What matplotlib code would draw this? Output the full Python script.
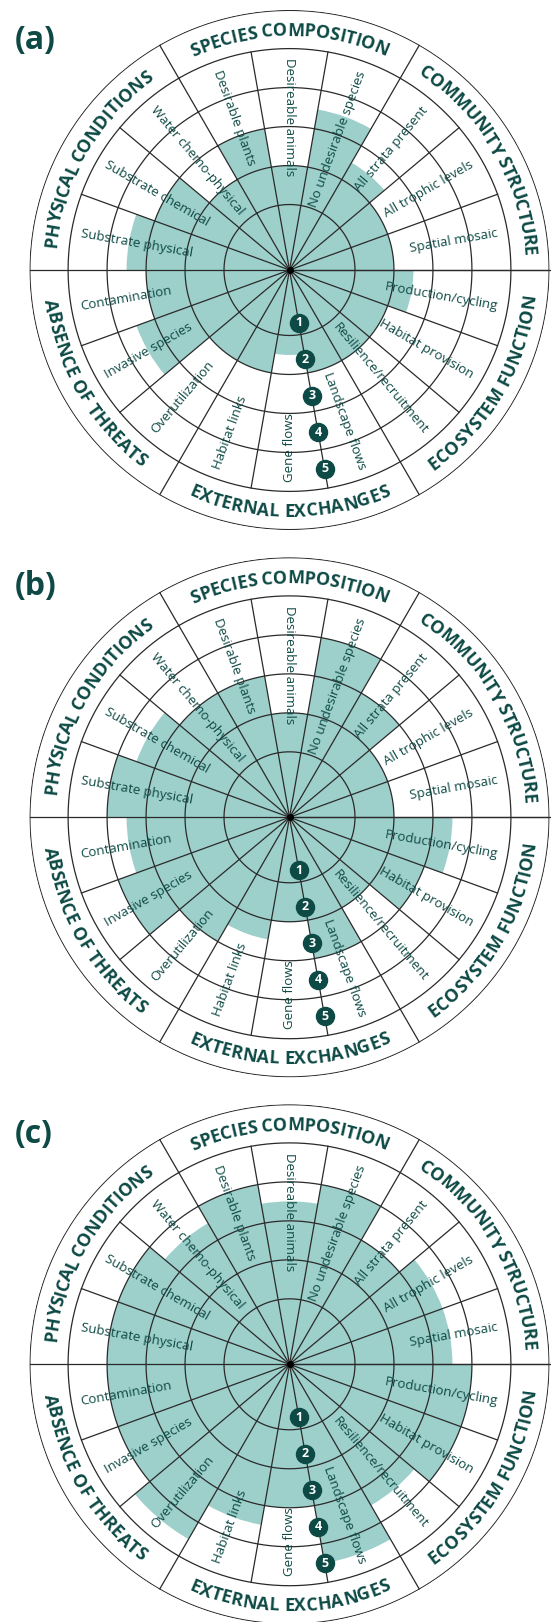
import numpy as np
import matplotlib
matplotlib.use("Agg")
import matplotlib.pyplot as plt
from matplotlib.font_manager import FontProperties, findfont, get_font

plt.rcParams['font.family'] = ['Open Sans', 'DejaVu Sans']

# Recovery wheel data (ratings 0-5), attributes clockwise from the top-left
categories = ["SPECIES COMPOSITION", "COMMUNITY STRUCTURE", "ECOSYSTEM FUNCTION",
              "EXTERNAL EXCHANGES", "ABSENCE OF THREATS", "PHYSICAL CONDITIONS"]
attributes = ["Desirable plants", "Desireable animals", "No undesirable species",
              "All strata present", "All trophic levels", "Spatial mosaic",
              "Production/cycling", "Habitat provision", "Resilience/recruitment",
              "Landscape flows", "Gene flows", "Habitat links",
              "Overutilization", "Invasive species", "Contamination",
              "Substrate physical", "Substrate chemical", "Water chemo-physical"]
values_a = [3, 2, 3.5, 2.5, 2, 2, 2.5, 2, 2, 2, 1.5, 2, 2, 3.5, 3, 3.5, 3, 2]
values_b = [3, 2, 4, 3, 2, 2, 3.5, 3, 2, 3, 2, 2.5, 3, 4, 3.5, 4, 3.5, 3]
values_c = [4, 3.5, 4, 3, 3.5, 3.5, 4, 4, 3.5, 4.5, 3, 3.5, 4.5, 4, 4, 4, 4, 3.5]
panel_labels = ["(a)", "(b)", "(c)"]
ratings = [1, 2, 3, 4, 5]

FILL = "#9dcfcb"
DARK = "#0e4a45"
LINE = "#2a2a2a"

W, H = 551, 1622
R = 260.0
CX = 289.5
CYS = [270, 817.3, 1364.3]
RMIN, RMAX = -0.68, 5.99
PXU = R / (RMAX - RMIN)

fig = plt.figure(figsize=(W / 100, H / 100), dpi=100)


def screen_to_theta(phi):
    # theta offset 120 deg, clockwise
    return np.deg2rad(120 - phi)


def curved_text(ax, text, phi_c, r_mid, upper, size):
    fp = FontProperties(family=['Open Sans', 'DejaVu Sans'], weight='bold', size=size)
    font = get_font(findfont(fp))
    font.set_size(size, 100)
    advs = [font.load_char(ord(ch)).linearHoriAdvance / 65536 for ch in text]
    starts = np.concatenate([[0], np.cumsum(advs)[:-1]])
    total = sum(advs)
    cap = 0.714 * size * 100 / 72
    r_base = r_mid - cap / 2 if upper else r_mid + cap / 2
    for ch, s0, a in zip(text, starts, advs):
        if ch == " ":
            continue
        off = s0 + a / 2 - total / 2
        dang = np.rad2deg(off / r_mid)
        if upper:
            phi = phi_c - dang
            rot = phi - 90
        else:
            phi = phi_c + dang
            rot = phi + 90
        ax.text(screen_to_theta(phi), r_base / PXU + RMIN, ch, fontproperties=fp,
                color=DARK, rotation=rot, rotation_mode='anchor',
                ha='center', va='baseline', clip_on=False)


all_values = [values_a, values_b, values_c]
n = len(attributes)
step = 360 / n
theta_c = np.deg2rad((np.arange(n) + 0.5) * step)
circ = np.linspace(0, 2 * np.pi, 721)

for p, (vals, cy) in enumerate(zip(all_values, CYS)):
    ax = fig.add_axes([(CX - R) / W, 1 - (cy + R) / H, 2 * R / W, 2 * R / H],
                      projection='polar')
    ax.set_theta_offset(np.deg2rad(120))
    ax.set_theta_direction(-1)
    ax.set_ylim(RMIN, RMAX)
    ax.set_xticks([])
    ax.set_yticks([])
    ax.grid(False)
    ax.spines['polar'].set_visible(False)

    ax.bar(theta_c, np.array(vals) - RMIN, width=np.deg2rad(step), bottom=RMIN,
           color=FILL, edgecolor='none', align='center', zorder=0.5)

    # rating rings and outer circle
    for k in ratings + [RMAX - 0.01]:
        ax.plot(circ, np.full_like(circ, k), color=LINE, lw=0.9, zorder=2)

    # sector dividers
    for i in range(n):
        t = np.deg2rad(i * step)
        end = RMAX if i % 3 == 0 else ratings[-1]
        ax.plot([t, t], [RMIN, end], color=LINE, lw=0.9, zorder=2)
    # right-hand divider runs on to the page edge
    ax.plot([np.deg2rad(120)] * 2, [RMIN, RMAX + 0.1], color=LINE, lw=0.9,
            zorder=2, clip_on=False)
    ax.plot(0, RMIN, 'o', ms=4, color='black', zorder=3)

    # attribute labels
    for i, name in enumerate(attributes):
        phi = (120 - (i + 0.5) * step) % 360
        if 90 <= phi <= 270:
            rot, ha = phi - 180, 'left'
        else:
            rot, ha = phi, 'right'
        ax.text(theta_c[i], 4.75, name, rotation=rot, rotation_mode='anchor',
                ha=ha, va='center', fontsize=9.5, color=DARK, zorder=4)

    # category labels on outer band
    for j, cat in enumerate(categories):
        phi_c = (120 - (j + 0.5) * 60) % 360
        upper = 0 < phi_c < 180
        curved_text(ax, cat, phi_c, 240.5, upper, 13)

    # rating markers
    tm = np.deg2rad(10 * step)
    for k in ratings:
        rk = k * 0.95 - 0.25
        ax.plot(tm, rk, 'o', ms=13, color=DARK, zorder=5)
        ax.text(tm, rk, str(k), color='white', fontsize=9, weight='bold',
                ha='center', va='center', zorder=6)

    fig.text(15 / W, 1 - (40 + p * 547) / H, panel_labels[p], fontsize=23,
             weight='bold', color=DARK, ha='left', va='center')

fig.savefig("out.png", dpi=100)
